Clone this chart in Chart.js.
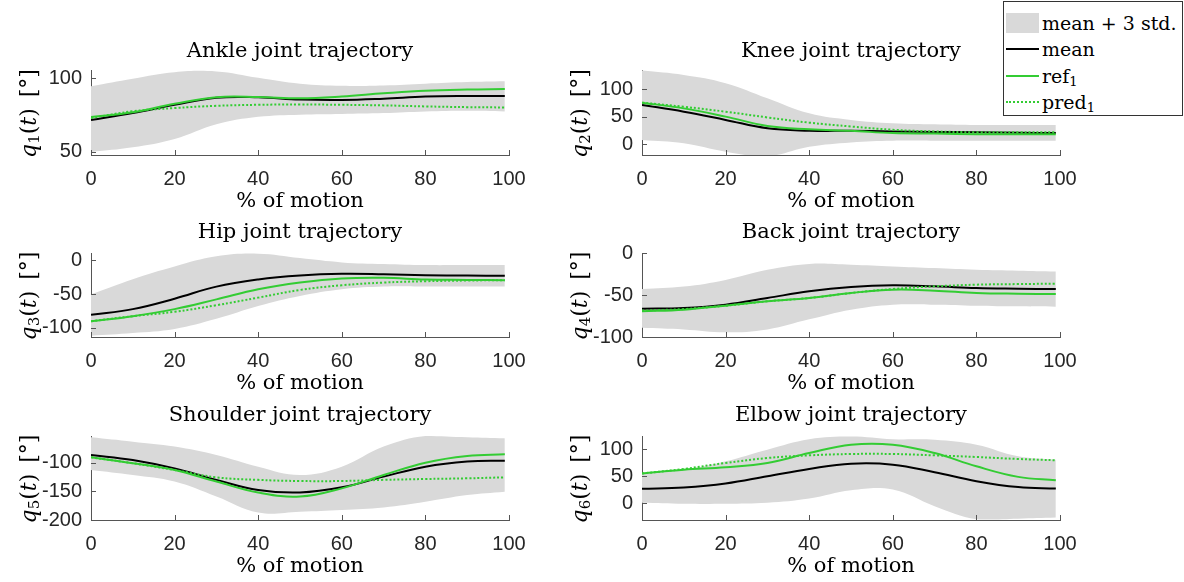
<!DOCTYPE html>
<html>
<head>
<meta charset="utf-8">
<script src="https://cdn.jsdelivr.net/npm/chart.js@4.4.0/dist/chart.umd.min.js"></script>
<style>
  body { margin: 0; background: #fff; width: 1184px; height: 582px; position: relative; overflow: hidden; }
  .cell { position: absolute; }
  #legend { position: absolute; left: 1003px; top: 1px; width: 178px; height: 113px; border: 1px solid #333; background: #fff;
            font-family: "DejaVu Serif", serif; font-size: 19px; color: #000; }
  #legend .item { position: absolute; left: 2px; height: 26px; line-height: 26px; white-space: nowrap; }
  #legend .mark { position: absolute; left: 0; width: 33px; }
  #legend .txt { position: absolute; left: 36px; }
  #legend sub { font-size: 13px; vertical-align: -3px; line-height: 0; }
</style>
</head>
<body>
<div id="legend">
  <div class="item" style="top:8px"><span class="mark" style="top:3px;height:20px;background:#d9d9d9"></span><span class="txt">mean + 3 std.</span></div>
  <div class="item" style="top:34px"><span class="mark" style="top:12px;border-top:2px solid #000"></span><span class="txt">mean</span></div>
  <div class="item" style="top:61px"><span class="mark" style="top:12px;border-top:2px solid #33cc33"></span><span class="txt">ref<sub>1</sub></span></div>
  <div class="item" style="top:87px"><span class="mark" style="top:12px;border-top:2px dotted #33cc33"></span><span class="txt">pred<sub>1</sub></span></div>
</div>
<script>
// % of motion samples
const pct = [0, 10, 20, 30, 40, 50, 60, 70, 80, 90, 99];
const pctTicks = [0, 20, 40, 60, 80, 100];

// ankle (q1)
const ankleUpper = [94.7, 99.8, 104.2, 104.7, 100.4, 96.4, 95, 95.2, 96.4, 97.5, 98];
const ankleLower = [49.8, 53, 58.7, 68.7, 73.8, 75.3, 75.8, 76.4, 77.5, 78, 77.5];
const ankleMean = [71.6, 76.4, 82, 86.8, 87.1, 85.6, 85.3, 86.2, 87.6, 88, 88];
const ankleRef = [73.6, 76.9, 82.7, 87.2, 87.3, 86.4, 87.6, 89.8, 91.6, 92.4, 92.7];
const anklePred = [73, 77.6, 79.8, 81.3, 82, 82.2, 82, 81.6, 80.9, 80.4, 80.2];
const ankleTicks = [50, 100];

// knee (q2)
const kneeUpper = [134, 126, 111, 83.5, 56, 44, 38, 36, 34.7, 34.7, 34.7];
const kneeLower = [7.3, 1.2, -14, -22, -5, 3, 6, 6, 6, 6, 6];
const kneeMean = [71.3, 59, 44, 28.7, 24.4, 24, 23, 22, 21.5, 20.5, 20];
const kneeRef = [75.5, 65, 50, 33, 27, 24, 20, 19, 18, 18, 18];
const kneePred = [75.5, 68, 59, 48.5, 39, 32, 26, 23, 21.5, 21.5, 21.5];
const kneeTicks = [0, 50, 100];

// hip (q3)
const hipUpper = [-50.5, -28, -9, 6, 10, 3.4, -3, -5.4, -7, -7, -7];
const hipLower = [-112, -108, -102, -87, -68, -53, -43, -39, -39, -39, -39];
const hipMean = [-81, -72.5, -57, -39, -28.4, -22.5, -20, -20.6, -22, -22.5, -23];
const hipRef = [-90.7, -83, -72.5, -58, -43, -33, -27, -26, -28.4, -29, -29.4];
const hipPred = [-90.7, -83, -76.5, -66.7, -55.4, -44, -37, -33, -31, -30, -29.4];
const hipTicks = [-100, -50, 0];

// back (q4)
const backUpper = [-43, -40, -32, -20, -13, -14, -16, -18, -20, -21, -22];
const backLower = [-89, -91, -94.4, -91, -79, -67.5, -61.5, -61.5, -62.7, -63.5, -64];
const backMean = [-66.3, -65.5, -61.5, -53.6, -45.6, -40.5, -38.5, -39.7, -41.7, -42.5, -43];
const backRef = [-69.4, -67.5, -62.7, -57.5, -53.6, -47.6, -43.7, -44.8, -47.6, -48.5, -48.8];
const backPred = [-68.6, -66.7, -62.7, -57.5, -53.6, -47.6, -42.9, -39.7, -37.7, -37, -36.5];
const backTicks = [-100, -50, 0];

// shoulder (q5)
const shoulderUpper = [-55.8, -63.4, -72, -86.6, -107, -121.5, -107, -72, -53.5, -55.8, -57.6];
const shoulderLower = [-112.8, -121.5, -133, -159, -187, -185.5, -182.6, -178, -168, -156.4, -150.6];
const shoulderMean = [-86.6, -95.3, -110, -130, -147.7, -152, -143, -124.4, -107, -98, -96.5];
const shoulderRef = [-90.7, -101, -112.8, -133, -152, -159, -144.8, -121.5, -100, -88.4, -85.5];
const shoulderPred = [-90.7, -101, -112.8, -125.6, -130, -132, -132, -130, -128.5, -127.3, -125.6];
const shoulderTicks = [-200, -150, -100];

// elbow (q6)
const elbowUpper = [55, 62, 77.4, 98.8, 118, 123, 118, 117, 108, 86.6, 80.5];
const elbowLower = [1.2, -0.6, -0.6, 1.2, 9, 24.4, 25.6, -5, -29, -28, -26];
const elbowMean = [26.8, 29.3, 36.6, 50, 63.4, 73, 71.3, 57.3, 40.9, 30, 27.4];
const elbowRef = [55, 62, 66.5, 74.4, 92.7, 108, 108, 92.7, 68.3, 48.8, 42.7];
const elbowPred = [55, 63.4, 74.4, 83.5, 88.4, 90.9, 90.9, 88.4, 85.4, 81.7, 79.3];
const elbowTicks = [0, 50, 100];

const BAND = '#d9d9d9';
const GREEN = '#33cc33';
const AXIS = '#555555';
const TEXT = '#262626';
const SERIF = '"DejaVu Serif", serif';

const cols = [
  { left: 0, width: 560, plotL: 91, plotR: 509 },
  { left: 560, width: 624, plotL: 642, plotR: 1060 }
];
const rows = [
  { top: 70, bottom: 155, gap: 18 },
  { top: 253, bottom: 337, gap: 20 },
  { top: 436, bottom: 520, gap: 20 }
];

const panels = [
  { title: 'Ankle joint trajectory', q: '1', row: 0, col: 0, min: 47.8, max: 105.7, ticks: ankleTicks,
    upper: ankleUpper, lower: ankleLower, mean: ankleMean, ref: ankleRef, pred: anklePred },
  { title: 'Knee joint trajectory', q: '2', row: 0, col: 1, min: -20, max: 135, ticks: kneeTicks,
    upper: kneeUpper, lower: kneeLower, mean: kneeMean, ref: kneeRef, pred: kneePred },
  { title: 'Hip joint trajectory', q: '3', row: 1, col: 0, min: -114, max: 11, ticks: hipTicks,
    upper: hipUpper, lower: hipLower, mean: hipMean, ref: hipRef, pred: hipPred },
  { title: 'Back joint trajectory', q: '4', row: 1, col: 1, min: -100, max: 0, ticks: backTicks,
    upper: backUpper, lower: backLower, mean: backMean, ref: backRef, pred: backPred },
  { title: 'Shoulder joint trajectory', q: '5', row: 2, col: 0, min: -200, max: -53.5, ticks: shoulderTicks,
    upper: shoulderUpper, lower: shoulderLower, mean: shoulderMean, ref: shoulderRef, pred: shoulderPred },
  { title: 'Elbow joint trajectory', q: '6', row: 2, col: 1, min: -30.5, max: 124, ticks: elbowTicks,
    upper: elbowUpper, lower: elbowLower, mean: elbowMean, ref: elbowRef, pred: elbowPred }
];

// inward tick marks + rotated y label q_i(t) [°]
const axisDecor = {
  id: 'axisDecor',
  afterDraw(chart, args, opts) {
    const { ctx, chartArea: a, scales: { x, y } } = chart;
    ctx.save();
    ctx.strokeStyle = AXIS;
    ctx.lineWidth = 1;
    ctx.beginPath();
    x.ticks.forEach(t => {
      const px = Math.round(x.getPixelForValue(t.value)) + 0.5;
      ctx.moveTo(px, a.bottom);
      ctx.lineTo(px, a.bottom - 5);
    });
    y.ticks.forEach(t => {
      const py = Math.round(y.getPixelForValue(t.value)) + 0.5;
      ctx.moveTo(a.left, py);
      ctx.lineTo(a.left + 5, py);
    });
    ctx.stroke();

    const parts = [
      { t: 'q', f: 'italic 22px ' + SERIF, dy: 0 },
      { t: opts.q, f: '15px ' + SERIF, dy: 5 },
      { t: '(', f: '22px ' + SERIF, dy: 0 },
      { t: 't', f: 'italic 22px ' + SERIF, dy: 0 },
      { t: ')', f: '22px ' + SERIF, dy: 0 },
      { t: '\u2002', f: '22px ' + SERIF, dy: 0 },
      { t: '[', f: '22px ' + SERIF, dy: 0 },
      { t: '\u00b0', f: '22px ' + SERIF, dy: 0 },
      { t: ']', f: '22px ' + SERIF, dy: 0 }
    ];
    let total = 0;
    parts.forEach(p => { ctx.font = p.f; p.w = ctx.measureText(p.t).width; total += p.w; });
    ctx.translate(a.left - 61, (a.top + a.bottom) / 2 + 1);
    ctx.rotate(-Math.PI / 2);
    ctx.fillStyle = '#000';
    ctx.textBaseline = 'middle';
    ctx.textAlign = 'left';
    let cx = -total / 2;
    parts.forEach(p => { ctx.font = p.f; ctx.fillText(p.t, cx, p.dy); cx += p.w; });
    ctx.restore();
  }
};

const pts = arr => pct.map((x, i) => ({ x: x, y: arr[i] }));

panels.forEach(p => {
  const col = cols[p.col], row = rows[p.row];
  const top = row.top - 40;
  const height = row.bottom - row.top + 40 + 62;
  const div = document.createElement('div');
  div.className = 'cell';
  div.style.left = col.left + 'px';
  div.style.top = top + 'px';
  div.style.width = col.width + 'px';
  div.style.height = height + 'px';
  const canvas = document.createElement('canvas');
  div.appendChild(canvas);
  document.body.insertBefore(div, document.getElementById('legend'));

  new Chart(canvas, {
    type: 'line',
    data: {
      datasets: [
        { label: 'mean + 3 std.', data: pts(p.upper), fill: '+1', backgroundColor: BAND, borderWidth: 0, order: 5 },
        { label: 'lower', data: pts(p.lower), fill: false, borderWidth: 0, order: 6 },
        { label: 'mean', data: pts(p.mean), borderColor: '#000', borderWidth: 2, fill: false, order: 3 },
        { label: 'ref', data: pts(p.ref), borderColor: GREEN, borderWidth: 2, fill: false, order: 2 },
        { label: 'pred', data: pts(p.pred), borderColor: GREEN, borderWidth: 2, borderDash: [2, 2], fill: false, order: 1 }
      ]
    },
    options: {
      responsive: true,
      maintainAspectRatio: false,
      animation: false,
      layout: { padding: { left: 0, top: 0, bottom: 0, right: col.left + col.width - col.plotR } },
      elements: { point: { radius: 0 }, line: { tension: 0.4 } },
      scales: {
        x: {
          type: 'linear', min: 0, max: 100,
          afterBuildTicks: s => { s.ticks = pctTicks.map(v => ({ value: v })); },
          grid: { display: false, drawTicks: false },
          border: { display: true, color: AXIS, width: 1 },
          ticks: { padding: 12, color: TEXT, font: { family: '"Liberation Sans", Arial', size: 20 } },
          title: { display: true, text: '% of motion', color: '#000', font: { family: SERIF, size: 21 }, padding: { top: 3, bottom: 3 } },
          afterFit: s => { s.height = 62; }
        },
        y: {
          min: p.min, max: p.max,
          afterBuildTicks: s => { s.ticks = p.ticks.map(v => ({ value: v })); },
          grid: { display: false, drawTicks: false },
          border: { display: true, color: AXIS, width: 1 },
          ticks: { padding: 9, color: TEXT, font: { family: '"Liberation Sans", Arial', size: 20 } },
          afterFit: s => { s.width = col.plotL - col.left; }
        }
      },
      plugins: {
        legend: { display: false },
        tooltip: { enabled: false },
        title: {
          display: true, text: p.title, fullSize: false, color: '#000',
          font: { family: SERIF, size: 21, weight: 'normal' },
          padding: { top: 40 - row.gap - 12.6, bottom: row.gap - 12.6 }
        },
        axisDecor: { q: p.q }
      }
    },
    plugins: [axisDecor]
  });
});
</script>
</body>
</html>
